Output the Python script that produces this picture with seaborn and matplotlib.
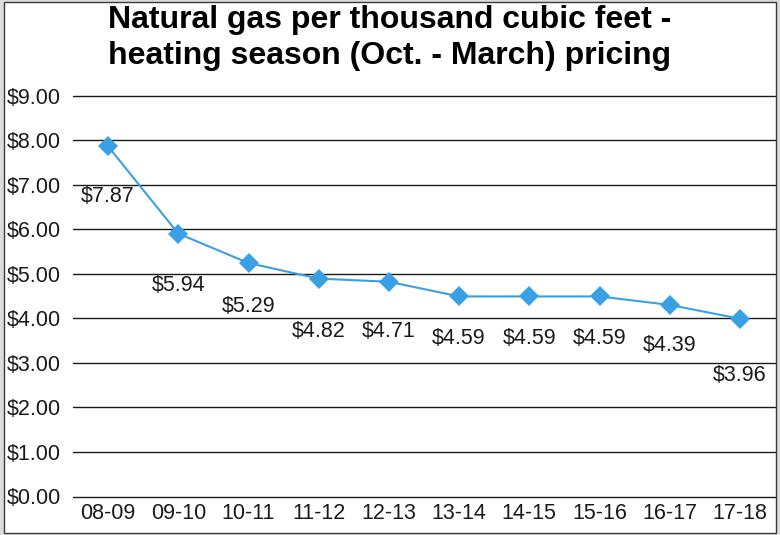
import matplotlib

matplotlib.use("Agg")
import matplotlib.pyplot as plt
import matplotlib.patches as mpatches
import pandas as pd
import seaborn as sns

# heating seasons (Oct. - March)
seasons = ["08-09", "09-10", "10-11", "11-12", "12-13",
           "13-14", "14-15", "15-16", "16-17", "17-18"]
# where the markers sit on the chart
plotted = [7.86, 5.90, 5.24, 4.89, 4.82, 4.49, 4.49, 4.49, 4.30, 3.99]
# the data labels as printed
price_labels = ["$7.87", "$5.94", "$5.29", "$4.82", "$4.71",
                "$4.59", "$4.59", "$4.59", "$4.39", "$3.96"]
y_ticks = [0, 1, 2, 3, 4, 5, 6, 7, 8, 9]

df = pd.DataFrame({"season": seasons, "price": plotted})

sns.set_theme(style="white")
plt.rcParams["font.family"] = ["Liberation Sans", "DejaVu Sans"]

fig = plt.figure(figsize=(7.8, 5.35), dpi=100)
fig.patch.set_facecolor("#dcdcdc")
# white chart area with thin dark frame
fig.patches.append(mpatches.Rectangle(
    (4 / 780, 2 / 535), 772 / 780, 531 / 535, transform=fig.transFigure,
    facecolor="white", edgecolor="#3a3a3a", linewidth=1, zorder=-1))

ax = fig.add_axes([73 / 780, 1 - 496.5 / 535, 702 / 780, 401 / 535])
ax.set_facecolor("none")

line_c = "#3aa0e6"
sns.lineplot(data=df, x="season", y="price", ax=ax, color=line_c,
             linewidth=1.5, marker="D", markersize=10.5, markeredgewidth=0,
             sort=False, zorder=3)

# data labels below markers (pixel offsets)
offsets = [50, 52, 43, 53, 50, 42, 42, 42, 41, 57]
for i, (v, lab) in enumerate(zip(plotted, price_labels)):
    ax.annotate(lab, (i, v), xytext=(0, -offsets[i] * 0.72),
                textcoords="offset points", ha="center", va="center",
                fontsize=15.5, color="#1a1a1a")

ax.set_xlim(-0.5, len(seasons) - 0.5)
ax.set_ylim(0, 9)
ax.set_yticks(y_ticks)
ax.set_yticklabels([f"${t:.2f}" for t in y_ticks], fontsize=15.5,
                   color="#1a1a1a", ha="left")
ax.tick_params(axis="y", length=0, pad=48)
ax.tick_params(axis="x", length=0, pad=5, labelsize=15.5,
               labelcolor="#1a1a1a")
ax.yaxis.grid(True, color="#1a1a1a", linewidth=1)
ax.xaxis.grid(False)
for gl in ax.get_ygridlines():
    gl.set_clip_on(False)
for s in ax.spines.values():
    s.set_visible(False)
ax.set_xlabel("")
ax.set_ylabel("")

fig.text(0.5, 1 - 38 / 535,
         "Natural gas per thousand cubic feet -\n"
         "heating season (Oct. - March) pricing",
         ha="center", va="center", fontsize=23, fontweight="bold",
         linespacing=1.25, color="black")

fig.savefig("out.png", dpi=100, facecolor=fig.get_facecolor())
